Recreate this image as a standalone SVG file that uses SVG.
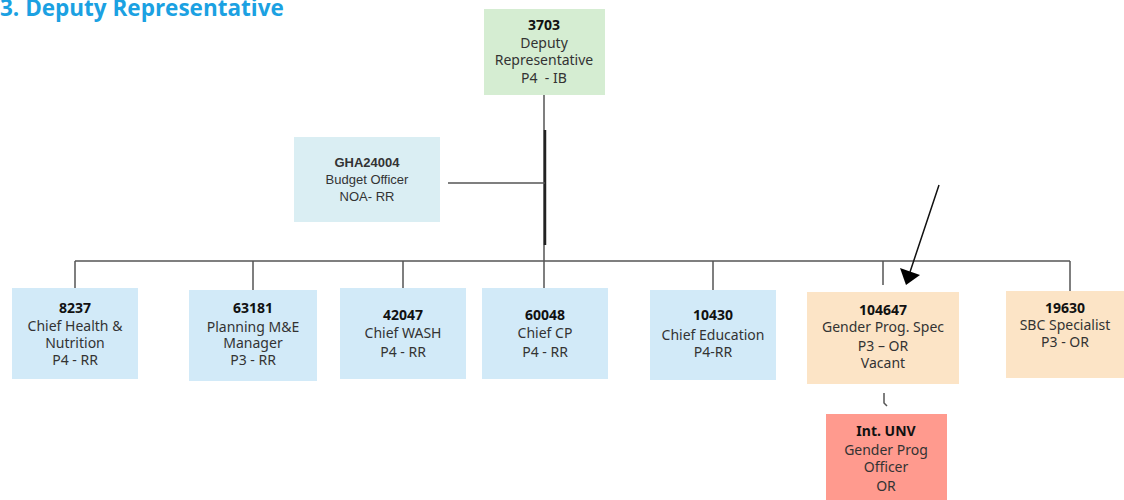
<svg xmlns="http://www.w3.org/2000/svg" width="1124" height="500" viewBox="0 0 1124 500">
<defs>
<style>
.t{font-family:"Noto Sans","Open Sans",sans-serif;font-size:14px;fill:#333;text-anchor:middle}
.b{font-weight:bold;fill:#111}
.s{font-family:"Liberation Sans",Arial,sans-serif;font-size:13px;fill:#333;text-anchor:middle}
.blue{fill:#D2EAF8}
.ln{stroke:#555;stroke-width:1.5;fill:none}
</style>
</defs>
<rect width="1124" height="500" fill="#fff"/>
<text x="0" y="16" font-family="'Open Sans','Noto Sans',sans-serif" font-size="22.5" font-weight="bold" fill="#1BA1E2">3. Deputy Representative</text>

<g id="connectors">
<path class="ln" d="M544,95 V288"/>
<path d="M545,130 V245" stroke="#222" stroke-width="2.5"/>
<path class="ln" d="M448,183 H545"/>
<path class="ln" d="M75,261 H1070"/>
<path class="ln" d="M75,261 V288 M253,261 V290 M403,261 V288 M713,261 V290 M883,261 V285 M1070,261 V291"/>
<path class="ln" d="M884,393 V403 L887,406" stroke-width="1.2"/>
<line x1="939" y1="185" x2="910" y2="272" stroke="#111" stroke-width="1.5"/>
<path d="M900,268 L920,275 L906,285 z" fill="#000"/>
</g>

<g id="n3703">
<rect x="484" y="9" width="121" height="86" fill="#D5EDD2"/>
<text class="t b" x="544" y="30">3703</text>
<text class="t" x="544" y="48">Deputy</text>
<text class="t" x="544" y="65">Representative</text>
<text class="t" x="544" y="83" xml:space="preserve">P4  - IB</text>
</g>

<g id="nGHA24004">
<rect x="294" y="137" width="146" height="85" fill="#DAEEF3"/>
<text class="s b" x="367" y="167">GHA24004</text>
<text class="s" x="367" y="184">Budget Officer</text>
<text class="s" x="367" y="201">NOA- RR</text>
</g>

<g id="n8237">
<rect class="blue" x="12" y="288" width="126" height="91"/>
<text class="t b" x="75" y="313" font-size="15">8237</text>
<text class="t" x="75" y="331">Chief Health &amp;</text>
<text class="t" x="75" y="348">Nutrition</text>
<text class="t" x="75" y="365">P4 - RR</text>
</g>

<g id="n63181">
<rect class="blue" x="189" y="290" width="128" height="91"/>
<text class="t b" x="253" y="313" font-size="15">63181</text>
<text class="t" x="253" y="332" font-size="12.5">Planning M&amp;E</text>
<text class="t" x="253" y="348" font-size="12.5">Manager</text>
<text class="t" x="253" y="365">P3 - RR</text>
</g>

<g id="n42047">
<rect class="blue" x="340" y="288" width="126" height="91"/>
<text class="t b" x="403" y="320" font-size="15">42047</text>
<text class="t" x="403" y="338">Chief WASH</text>
<text class="t" x="403" y="357">P4 - RR</text>
</g>

<g id="n60048">
<rect class="blue" x="482" y="288" width="126" height="91"/>
<text class="t b" x="545" y="320" font-size="15">60048</text>
<text class="t" x="545" y="338">Chief CP</text>
<text class="t" x="545" y="357">P4 - RR</text>
</g>

<g id="n10430">
<rect class="blue" x="650" y="290" width="126" height="90"/>
<text class="t b" x="713" y="320" font-size="15">10430</text>
<text class="t" x="713" y="340">Chief Education</text>
<text class="t" x="713" y="357">P4-RR</text>
</g>

<g id="n104647">
<rect x="807" y="292" width="152" height="92" fill="#FCE4C6"/>
<text class="t b" x="883" y="315" font-size="12">104647</text>
<text class="t" x="883" y="332">Gender Prog. Spec</text>
<text class="t" x="883" y="351">P3 – OR</text>
<text class="t" x="883" y="368">Vacant</text>
</g>

<g id="n19630">
<rect x="1006" y="291" width="118" height="87" fill="#FCE4C6"/>
<text class="t b" x="1065" y="313" font-size="15">19630</text>
<text class="t" x="1065" y="330">SBC Specialist</text>
<text class="t" x="1065" y="347">P3 - OR</text>
</g>

<g id="nUNV">
<rect x="826" y="414" width="121" height="90" fill="#FF9A8E"/>
<text class="t b" x="886" y="436" font-size="15">Int. UNV</text>
<text class="t" x="886" y="455">Gender Prog</text>
<text class="t" x="886" y="472">Officer</text>
<text class="t" x="886" y="491">OR</text>
</g>
</svg>
